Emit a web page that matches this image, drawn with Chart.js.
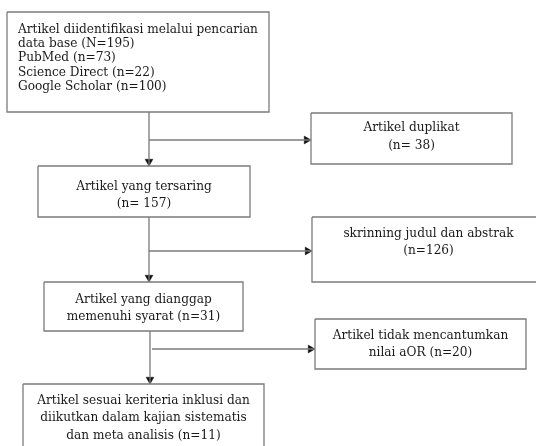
<!DOCTYPE html>
<html>
<head>
<meta charset="utf-8">
<script src="https://cdn.jsdelivr.net/npm/chart.js@4.4.0/dist/chart.umd.min.js"></script>
<style>
  html, body { margin: 0; padding: 0; background: #fff; }
  #wrap { width: 536px; height: 446px; position: relative; }
</style>
</head>
<body>
<div id="wrap"><canvas id="flowChart"></canvas></div>
<script>
// text of each stage box (one entry per line)
const boxLines = [
    ['Artikel diidentifikasi melalui pencarian', 'data base (N=195)', 'PubMed (n=73)', 'Science Direct (n=22)', 'Google Scholar (n=100)'],
    ['Artikel duplikat', '(n= 38)'],
    ['Artikel yang tersaring', '(n= 157)'],
    ['skrinning judul dan abstrak', '(n=126)'],
    ['Artikel yang dianggap', 'memenuhi syarat (n=31)'],
    ['Artikel tidak mencantumkan', 'nilai aOR (n=20)'],
    ['Artikel sesuai keriteria inklusi dan', 'diikutkan dalam kajian sistematis', 'dan meta analisis (n=11)']
];
const stageCounts = [195, 38, 157, 126, 31, 20, 11];

// layout, in axis units (x 0..536, y 0..446 downwards)
const boxLayout = [
    { l: 7,   t: 12,  r: 269, b: 112, textY: 29,  lh: 14.4, align: 'left', textX: 18 },
    { l: 311, t: 113, r: 512, b: 164, textY: 127, lh: 18 },
    { l: 38,  t: 166, r: 250, b: 217, textY: 186, lh: 17 },
    { l: 312, t: 217, r: 545, b: 282, textY: 233, lh: 17 },
    { l: 44,  t: 282, r: 243, b: 331, textY: 299, lh: 17 },
    { l: 315, t: 319, r: 526, b: 369, textY: 335, lh: 17 },
    { l: 23,  t: 384, r: 264, b: 470, textY: 400, lh: 17.5 }
];

const connectors = [
    [[149, 112], [149, 166]],
    [[149, 140], [311, 140]],
    [[149, 217], [149, 282]],
    [[149, 251], [312, 251]],
    [[150, 331], [150, 384]],
    [[152, 349], [315, 349]]
];

const lineColor = '#7b7b7b';
const textColor = '#1a1a1a';
const fontFamily = '"DejaVu Serif Condensed", "Liberation Serif", serif';
const arrowR = 4.5;

const datasets = [];

boxLayout.forEach((b) => {
    datasets.push({
        type: 'line',
        data: [{x: b.l, y: b.t}, {x: b.r, y: b.t}, {x: b.r, y: b.b}, {x: b.l, y: b.b}, {x: b.l, y: b.t}],
        borderColor: lineColor,
        borderWidth: 1.3,
        pointRadius: 0,
        fill: false,
        tension: 0
    });
});

const arrowPts = [];
const arrowRot = [];
connectors.forEach((c) => {
    datasets.push({
        type: 'line',
        data: c.map(p => ({x: p[0], y: p[1]})),
        borderColor: lineColor,
        borderWidth: 1.3,
        pointRadius: 0,
        fill: false
    });
    const a = c[c.length - 2], e = c[c.length - 1];
    const dx = Math.sign(e[0] - a[0]), dy = Math.sign(e[1] - a[1]);
    arrowPts.push({x: e[0] - dx * arrowR, y: e[1] - dy * arrowR});
    arrowRot.push(dx > 0 ? 90 : 180);
});

datasets.push({
    type: 'scatter',
    data: arrowPts,
    pointStyle: 'triangle',
    pointRotation: arrowRot,
    pointRadius: arrowR,
    backgroundColor: '#111',
    borderColor: '#111',
    borderWidth: 0.5
});

const boxText = {
    id: 'boxText',
    afterDatasetsDraw(chart) {
        const ctx = chart.ctx;
        const xs = chart.scales.x, ys = chart.scales.y;
        ctx.save();
        // size the font so the first line of the top box is ~240px wide, like the source
        ctx.font = '20px ' + fontFamily;
        const w = ctx.measureText(boxLines[0][0]).width;
        const size = Math.min(15, 20 * 240 / w);
        ctx.font = size.toFixed(2) + 'px ' + fontFamily;
        ctx.fillStyle = textColor;
        ctx.textBaseline = 'middle';
        boxLayout.forEach((b, i) => {
            const left = b.align === 'left';
            ctx.textAlign = left ? 'left' : 'center';
            const x = xs.getPixelForValue(left ? b.textX : (b.l + b.r) / 2);
            boxLines[i].forEach((line, k) => {
                ctx.fillText(line, x, ys.getPixelForValue(b.textY + k * b.lh));
            });
        });
        ctx.restore();
    }
};

new Chart(document.getElementById('flowChart'), {
    type: 'line',
    data: { datasets },
    options: {
        responsive: true,
        maintainAspectRatio: false,
        animation: false,
        layout: { padding: 0, autoPadding: false },
        plugins: { legend: { display: false }, tooltip: { enabled: false } },
        scales: {
            x: { type: 'linear', min: 0, max: 536, display: false },
            y: { type: 'linear', min: 0, max: 446, reverse: true, display: false }
        }
    },
    plugins: [boxText]
});
</script>
</body>
</html>
